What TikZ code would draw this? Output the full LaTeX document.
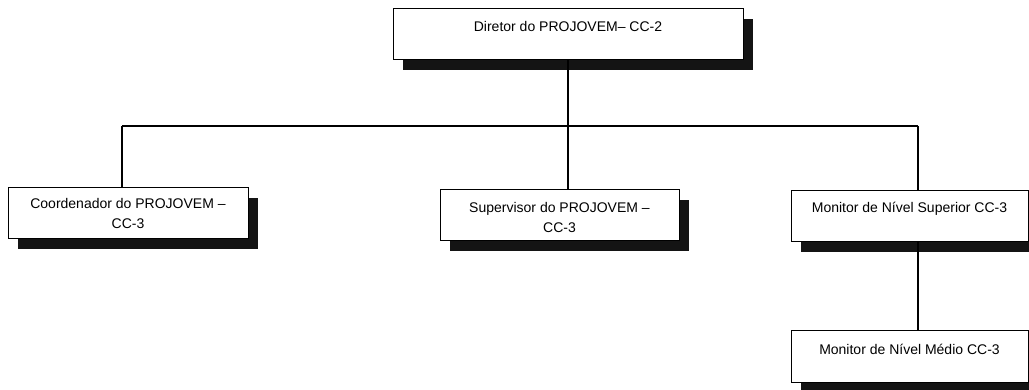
\documentclass[tikz,border=0pt]{standalone}
\usepackage{fontspec}
\setmainfont{Liberation Sans}
\usetikzlibrary{shadows}
\begin{document}
\begin{tikzpicture}[x=1pt,y=-1pt,
  orgbox/.style={draw=black, line width=1pt, fill=white, rectangle, inner sep=0pt,
    minimum height=51pt,
    drop shadow={shadow xshift=10pt, shadow yshift=-10pt, opacity=1, fill=black!92}},
  lbl/.style={font=\fontsize{14}{20}\selectfont, align=center, anchor=base, inner sep=0pt},
  conn/.style={draw=black, line width=1.2pt}]
\useasboundingbox (0,0) rectangle (1029,390);
\coordinate (bus) at (568,126);
\coordinate (b1) at (122,126);
\coordinate (b3) at (918,126);
\node[orgbox, minimum width=350pt] (top) at (568,34.5) {};
\node[orgbox, minimum width=240pt] (coord) at (128,213.5) {};
\node[orgbox, minimum width=239pt] (sup) at (559.5,215.5) {};
\node[orgbox, minimum width=237pt] (msup) at (909.5,216.5) {};
\node[orgbox, minimum width=237pt] (mmed) at (909.5,356.5) {};
% connectors
\draw[conn] (bus |- top.south) -- (bus);
\draw[conn] (b1) -- (b3);
\draw[conn] (b1) -- (b1 |- coord.north);
\draw[conn] (bus) -- (bus |- sup.north);
\draw[conn] (b3) -- (b3 |- msup.north);
\draw[conn] (b3 |- msup.south) -- (b3 |- mmed.north);
% labels
\node[lbl] (ttop) at ([yshift=-23pt]top.north) {Diretor do PROJOVEM– CC-2};
\node[lbl] (tcoord) at ([yshift=-41pt]coord.north) {Coordenador do PROJOVEM –\\CC-3};
\node[lbl] (tsup) at ([yshift=-43pt]sup.north) {Supervisor do PROJOVEM –\\CC-3};
\node[lbl] (tmsup) at ([yshift=-22pt]msup.north) {Monitor de Nível Superior CC-3};
\node[lbl] (tmmed) at ([yshift=-24pt]mmed.north) {Monitor de Nível Médio CC-3};
\end{tikzpicture}
\end{document}
